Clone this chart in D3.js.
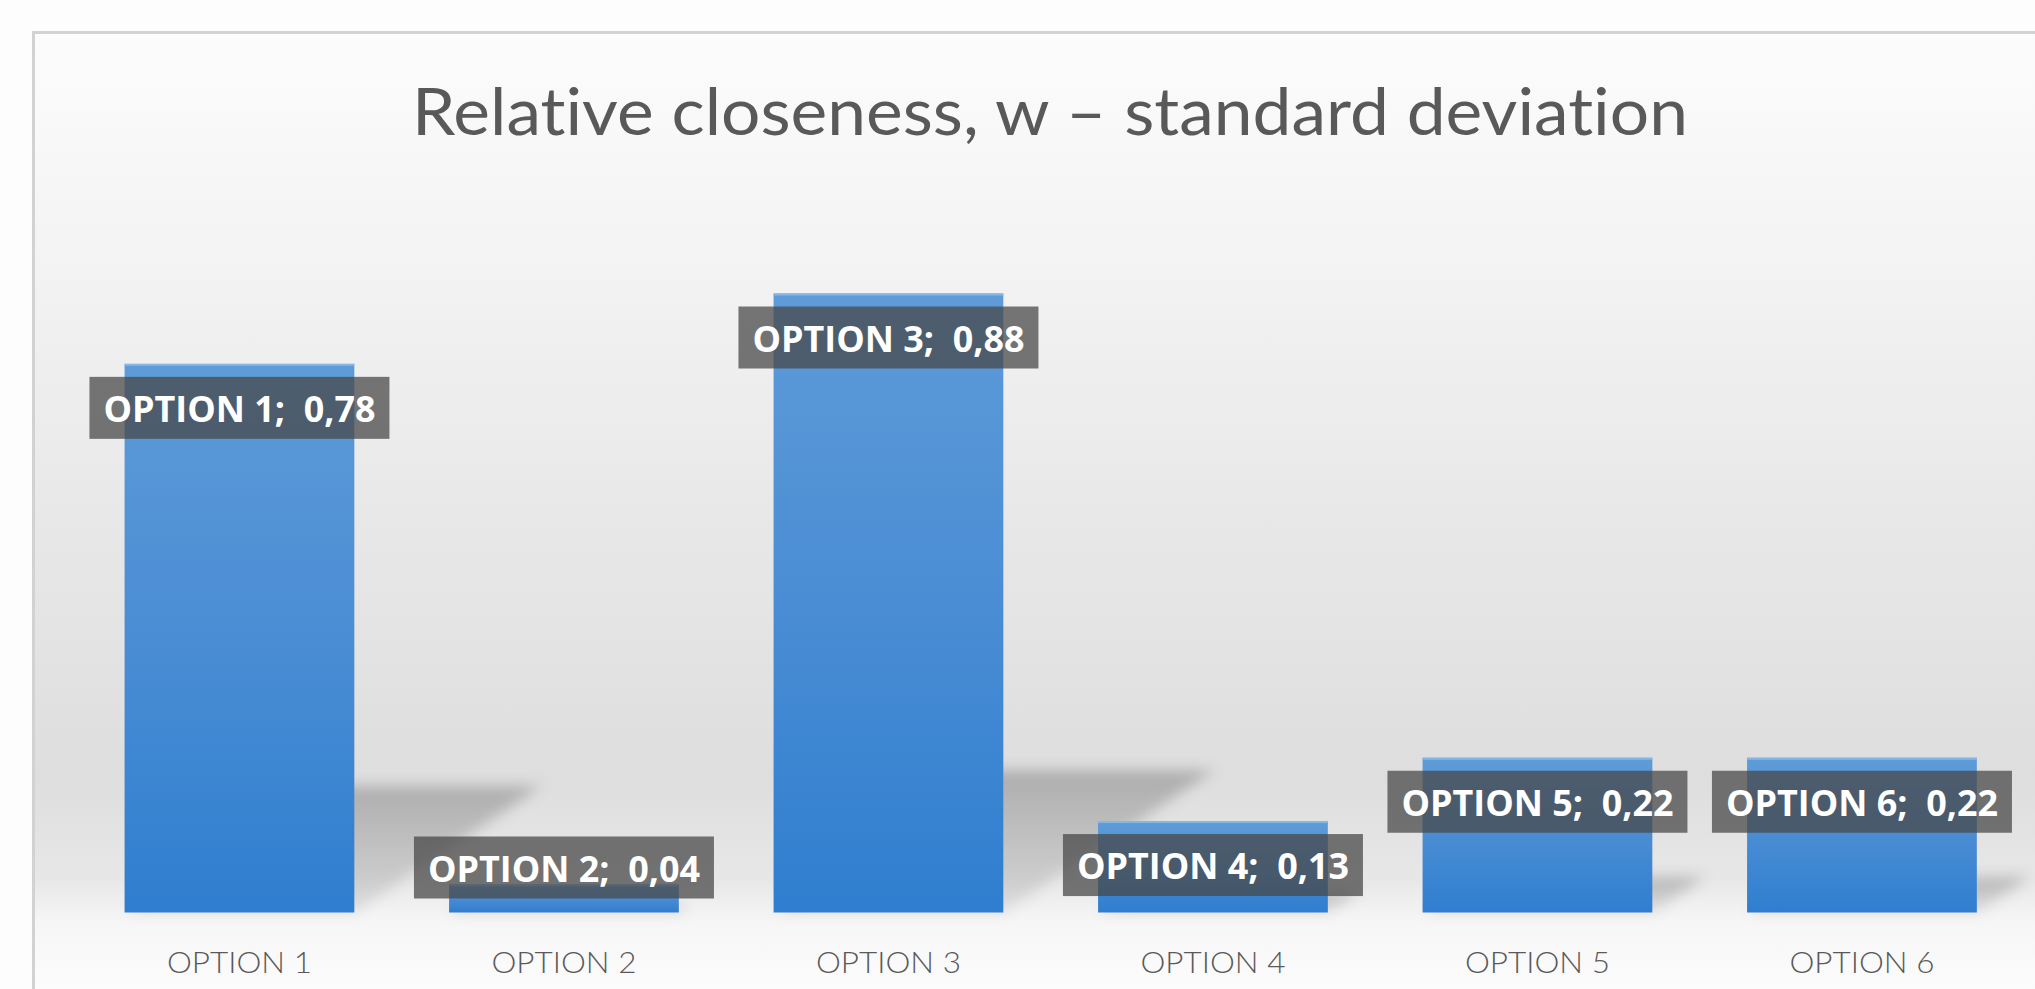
<!DOCTYPE html>
<html>
<head>
<meta charset="utf-8">
<script src="https://cdn.jsdelivr.net/npm/d3@7"></script>
<style>
  html, body { margin: 0; padding: 0; background: #fdfdfd; }
  svg { display: block; }
  text { white-space: pre; font-variant-ligatures: none; font-feature-settings: "liga" 0, "clig" 0; }
</style>
</head>
<body>
<svg id="chart" width="2035" height="989"></svg>
<script>
// ---- data ----
const categories = ["OPTION 1", "OPTION 2", "OPTION 3", "OPTION 4", "OPTION 5", "OPTION 6"];
const values = [0.78, 0.04, 0.88, 0.13, 0.22, 0.22];
const valueLabels = ["0,78", "0,04", "0,88", "0,13", "0,22", "0,22"];
const title = "Relative closeness, w \u2013 standard deviation";

const W = 2035, H = 989;
const svg = d3.select("#chart");
const defs = svg.append("defs");

// background gradient of chart area
const bg = defs.append("linearGradient").attr("id", "bgGrad")
  .attr("x1", 0).attr("y1", 0).attr("x2", 0).attr("y2", 1);
[[0, "#fcfcfc"], [0.17, "#f6f6f6"], [0.48, "#e9e9e9"], [0.78, "#dedede"],
 [0.885, "#e7e7e7"], [0.93, "#f6f6f6"], [1, "#fcfcfc"]]
  .forEach(([o, c]) => bg.append("stop").attr("offset", o).attr("stop-color", c));

// bar gradient
const bgBar = defs.append("linearGradient").attr("id", "barGrad")
  .attr("x1", 0).attr("y1", 0).attr("x2", 0).attr("y2", 1);
[[0, "#5e9bd8"], [0.5, "#4a8dd4"], [1, "#2f7ecf"]]
  .forEach(([o, c]) => bgBar.append("stop").attr("offset", o).attr("stop-color", c));

// shadow gradient
const sg = defs.append("linearGradient").attr("id", "shGrad")
  .attr("x1", 0).attr("y1", 0).attr("x2", 0).attr("y2", 1);
sg.append("stop").attr("offset", 0).attr("stop-color", "#000").attr("stop-opacity", 0.22);
sg.append("stop").attr("offset", 1).attr("stop-color", "#000").attr("stop-opacity", 0.08);

const blur = defs.append("filter").attr("id", "blur")
  .attr("x", "-30%").attr("y", "-30%").attr("width", "160%").attr("height", "160%");
blur.append("feGaussianBlur").attr("stdDeviation", 7);

// chart area
svg.append("rect").attr("x", 33).attr("y", 32).attr("width", W - 33).attr("height", H - 32)
  .attr("fill", "url(#bgGrad)");
svg.append("path").attr("d", `M33.5,${H} V32.5 H${W}`)
  .attr("fill", "none").attr("stroke", "#d2d2d2").attr("stroke-width", 3);

// scales
const x = d3.scaleBand().domain(categories).range([77.2, 2024.2])
  .paddingInner(0.292).paddingOuter(0.146);
const y = d3.scaleLinear().domain([0, 1]).range([912.5, 209.1]);

// title
svg.append("text").attr("x", 1050).attr("y", 135)
  .attr("text-anchor", "middle")
  .attr("font-family", "Lato, 'Open Sans', sans-serif")
  .attr("font-size", 66).attr("fill", "#595959")
  .attr("textLength", 1276).attr("lengthAdjust", "spacingAndGlyphs")
  .text(title);

const data = categories.map((c, i) => ({ c, v: values[i], lbl: valueLabels[i] }));

// shadows
svg.append("g").attr("filter", "url(#blur)")
  .selectAll("path").data(data).join("path")
  .attr("d", d => {
    const x0 = x(d.c), x1 = x(d.c) + x.bandwidth();
    const y0 = y(0), h = y(0) - y(d.v);
    const sh = 0.23 * h, dx = 0.34 * h;
    return `M${x0},${y0} L${x1},${y0} L${x1 + dx},${y0 - sh} L${x0 + dx},${y0 - sh} Z`;
  })
  .attr("fill", "url(#shGrad)");

// bars
const bars = svg.append("g");
bars.selectAll("rect.bar").data(data).join("rect").attr("class", "bar")
  .attr("x", d => x(d.c)).attr("y", d => y(d.v))
  .attr("width", x.bandwidth()).attr("height", d => y(0) - y(d.v))
  .attr("fill", "url(#barGrad)");
bars.selectAll("rect.hl").data(data).join("rect").attr("class", "hl")
  .attr("x", d => x(d.c)).attr("y", d => y(d.v))
  .attr("width", x.bandwidth()).attr("height", 2)
  .attr("fill", "#86b6e6");

// category labels
svg.append("g").selectAll("text").data(data).join("text")
  .attr("x", d => x(d.c) + x.bandwidth() / 2).attr("y", 973)
  .attr("text-anchor", "middle")
  .attr("font-family", "Lato, 'Open Sans', sans-serif")
  .attr("font-weight", 300).attr("font-size", 29).attr("fill", "#595959")
  .attr("textLength", 145).attr("lengthAdjust", "spacingAndGlyphs")
  .text(d => d.c);

// data labels
const boxW = 300, boxH = 62;
const lab = svg.append("g").selectAll("g").data(data).join("g")
  .attr("transform", d => {
    const cx = x(d.c) + x.bandwidth() / 2;
    const top = Math.min(y(d.v) + 13, y(0) - 14 - boxH);
    return `translate(${cx},${top})`;
  });
lab.append("rect").attr("x", -boxW / 2).attr("y", 0)
  .attr("width", boxW).attr("height", boxH)
  .attr("fill", "rgb(72,72,72)").attr("fill-opacity", 0.74);
lab.append("text").attr("x", 0).attr("y", 45)
  .attr("text-anchor", "middle")
  .attr("font-family", "'Open Sans', 'Noto Sans', sans-serif")
  .attr("font-weight", 700).attr("font-size", 35).attr("fill", "#ffffff")
  .attr("textLength", 272).attr("lengthAdjust", "spacingAndGlyphs")
  .text(d => d.c + ";  " + d.lbl);
</script>
</body>
</html>
